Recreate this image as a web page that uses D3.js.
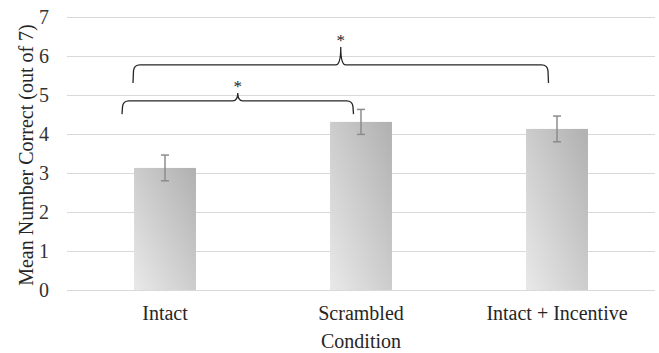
<!DOCTYPE html>
<html>
<head>
<meta charset="utf-8">
<script src="https://cdn.jsdelivr.net/npm/d3@7"></script>
<style>
  html, body { margin: 0; padding: 0; background: #fff; }
  svg { display: block; }
  svg text { font-family: "Liberation Serif", "Times New Roman", serif; }
</style>
</head>
<body>
<svg id="chart" width="659" height="353"></svg>
<script>
// Mean number correct per condition, with error bars (± half-width)
const categories = ["Intact", "Scrambled", "Intact + Incentive"];
const means = [3.13, 4.31, 4.13];
const errors = [0.33, 0.32, 0.33];
const yTicks = [0, 1, 2, 3, 4, 5, 6, 7];

// Significant pairwise comparisons, drawn as braces with an asterisk
const comparisonFrom = ["Intact", "Intact"];
const comparisonTo = ["Scrambled", "Intact + Incentive"];
const comparisonLabels = ["*", "*"];

const svg = d3.select("#chart");
const margin = { left: 67, right: 4, top: 17, bottom: 63 };
const W = 659, H = 353;

const x = d3.scaleBand()
  .domain(categories)
  .range([margin.left, W - margin.right])
  .paddingInner(0.684)
  .paddingOuter(0.342);

const y = d3.scaleLinear()
  .domain([0, 7])
  .range([H - margin.bottom, margin.top]);

// Bar fill: soft diagonal grey gradient
const defs = svg.append("defs");
const grad = defs.append("linearGradient")
  .attr("id", "barGrad")
  .attr("x1", 0).attr("y1", 1).attr("x2", 1).attr("y2", 0);
grad.append("stop").attr("offset", "0%").attr("stop-color", "#e9e9e9");
grad.append("stop").attr("offset", "100%").attr("stop-color", "#b0b0b0");

// Horizontal gridlines
svg.append("g")
  .selectAll("line")
  .data(yTicks)
  .join("line")
  .attr("x1", margin.left)
  .attr("x2", W - margin.right)
  .attr("y1", d => Math.round(y(d)) + 0.5)
  .attr("y2", d => Math.round(y(d)) + 0.5)
  .attr("stroke", "#d9d9d9")
  .attr("stroke-width", 1);

// Y axis tick labels
const yAxis = d3.axisLeft(y)
  .tickValues(yTicks)
  .tickFormat(d3.format("d"))
  .tickSize(0)
  .tickPadding(18);
svg.append("g")
  .attr("transform", `translate(${margin.left},0)`)
  .call(yAxis)
  .call(g => g.attr("font-family", null).attr("font-size", null))
  .call(g => g.select(".domain").remove())
  .call(g => g.selectAll("text")
    .style("font-size", "20px")
    .attr("fill", "#333333"));

// Bars
const rows = categories.map((c, i) => ({ c, m: means[i], e: errors[i] }));
svg.append("g")
  .selectAll("rect")
  .data(rows)
  .join("rect")
  .attr("x", d => x(d.c))
  .attr("y", d => y(d.m))
  .attr("width", x.bandwidth())
  .attr("height", d => y(0) - y(d.m))
  .attr("fill", "url(#barGrad)");

// Error bars
const eb = svg.append("g")
  .attr("stroke", "#8c8c8c")
  .attr("stroke-width", 1.5);
rows.forEach(d => {
  const cx = x(d.c) + x.bandwidth() / 2;
  const capW = 4;
  eb.append("line").attr("x1", cx).attr("x2", cx).attr("y1", y(d.m + d.e)).attr("y2", y(d.m - d.e));
  eb.append("line").attr("x1", cx - capW).attr("x2", cx + capW).attr("y1", y(d.m + d.e)).attr("y2", y(d.m + d.e));
  eb.append("line").attr("x1", cx - capW).attr("x2", cx + capW).attr("y1", y(d.m - d.e)).attr("y2", y(d.m - d.e));
});

// Category labels
const xAxis = d3.axisBottom(x).tickSize(0).tickPadding(16);
svg.append("g")
  .attr("transform", `translate(0,${y(0)})`)
  .call(xAxis)
  .call(g => g.attr("font-family", null).attr("font-size", null))
  .call(g => g.select(".domain").remove())
  .call(g => g.selectAll("text")
    .style("font-size", "20px")
    .attr("fill", "#262626"));

// Axis titles
svg.append("text")
  .attr("x", (margin.left + W - margin.right) / 2)
  .attr("y", 348)
  .attr("text-anchor", "middle")
  .style("font-size", "20px")
  .attr("fill", "#262626")
  .text("Condition");

svg.append("text")
  .attr("transform", "rotate(-90)")
  .attr("x", -155)
  .attr("y", 33)
  .attr("text-anchor", "middle")
  .style("font-size", "20px")
  .attr("fill", "#262626")
  .text("Mean Number Correct (out of 7)");

// Braces: ends are offset from the centres of the compared bars
const braceSpecs = [
  { leftOff: -43, rightOff: -7.5, endVal: 4.51, barVal: 4.85, tipVal: 5.05 },
  { leftOff: -32, rightOff: -8.5, endVal: 5.31, barVal: 5.77, tipVal: 6.23 }
];

function bracePath(x1, x2, yEnd, yBar, yTip) {
  const r = 6, t = 5;
  const xm = (x1 + x2) / 2;
  const p = d3.path();
  p.moveTo(x1, yEnd);
  p.lineTo(x1 + 0.5, yBar + r);
  p.quadraticCurveTo(x1 + 1, yBar, x1 + r + 1, yBar);
  p.lineTo(xm - t, yBar);
  p.quadraticCurveTo(xm, yBar, xm, yTip);
  p.quadraticCurveTo(xm, yBar, xm + t, yBar);
  p.lineTo(x2 - r - 1, yBar);
  p.quadraticCurveTo(x2 - 1, yBar, x2 - 0.5, yBar + r);
  p.lineTo(x2, yEnd);
  return p.toString();
}

const braceG = svg.append("g");
comparisonFrom.forEach((from, i) => {
  const s = braceSpecs[i];
  const x1 = x(from) + x.bandwidth() / 2 + s.leftOff;
  const x2 = x(comparisonTo[i]) + x.bandwidth() / 2 + s.rightOff;
  braceG.append("path")
    .attr("d", bracePath(x1, x2, y(s.endVal), y(s.barVal), y(s.tipVal)))
    .attr("fill", "none")
    .attr("stroke", "#262626")
    .attr("stroke-width", 1.3);
  braceG.append("text")
    .attr("x", (x1 + x2) / 2)
    .attr("y", y(s.tipVal) - 1)
    .attr("text-anchor", "middle")
    .style("font-size", "17px")
    .attr("fill", "#262626")
    .text(comparisonLabels[i]);
});
</script>
</body>
</html>
